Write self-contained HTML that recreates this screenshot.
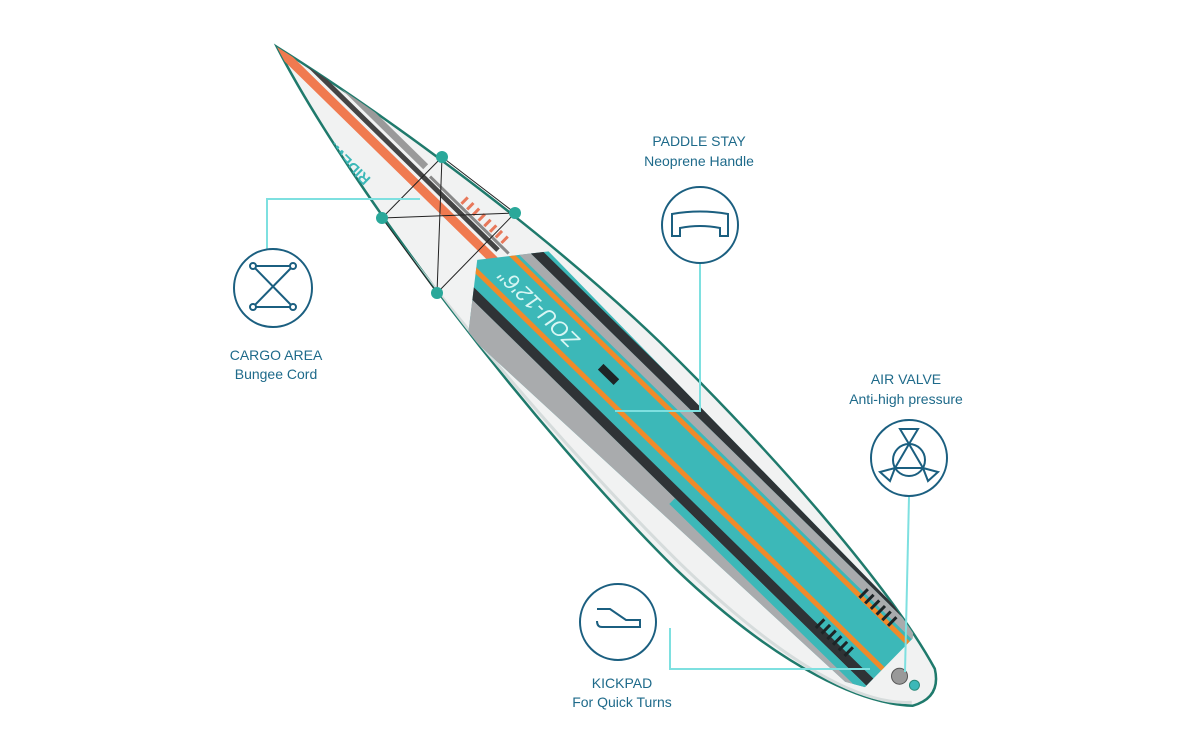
<!DOCTYPE html>
<html><head><meta charset="utf-8"><style>
html,body{margin:0;padding:0;background:#fff;width:1200px;height:750px;overflow:hidden}
svg{display:block}
text{font-family:"Liberation Sans",sans-serif;font-size:14px;fill:#1e6a8a;text-anchor:middle}
</style></head><body>
<svg width="1200" height="750" viewBox="0 0 1200 750" xmlns="http://www.w3.org/2000/svg">
<defs>
<clipPath id="bc"><path d="M0,0 C100,-22 300,-55 480,-57 C650,-57 820,-42 905,-16 Q930,0 915,26 C880,58 800,92 650,94 C450,93 150,50 0,0Z"/></clipPath>
<clipPath id="pc"><path d="M337,-44 L860,-32 L868,-22 L868,46 L850,56 L338,72 L292,12 Z"/></clipPath>
</defs>
<g transform="translate(277,47) rotate(44.4)">
  <path d="M0,0 C100,-22 300,-55 480,-57 C650,-57 820,-42 905,-16 Q930,0 915,26 C880,58 800,92 650,94 C450,93 150,50 0,0Z" fill="#f1f2f2" stroke="#1f7a6c" stroke-width="2.5"/>
  <g clip-path="url(#bc)">
    <path d="M0,6 C150,56 450,86 650,87 C800,86 880,60 912,24" fill="none" stroke="#d6dcdc" stroke-width="3"/>
    <rect x="0" y="-4" width="320" height="9" fill="#f07a50"/>
    <rect x="0" y="-12" width="300" height="5" fill="#444"/>
    <rect x="60" y="-22" width="130" height="7" fill="#9a9a9a"/>
    <rect x="200" y="-16" width="110" height="3" fill="#888"/>
    <g fill="#e8785a">
      <rect x="240" y="-26" width="3" height="9"/><rect x="248" y="-26" width="3" height="9"/><rect x="256" y="-26" width="3" height="9"/><rect x="264" y="-26" width="3" height="9"/><rect x="272" y="-26" width="3" height="9"/><rect x="280" y="-26" width="3" height="9"/><rect x="288" y="-26" width="3" height="9"/><rect x="296" y="-26" width="3" height="9"/>
    </g>
    <path d="M337,-44 L860,-32 L868,-22 L868,46 L850,56 L338,72 L292,12 Z" fill="#3cb8b8"/>
    <g clip-path="url(#pc)">
      <rect x="280" y="-40" width="600" height="10" fill="#2f3336"/>
      <rect x="280" y="-30" width="600" height="9" fill="#a9abad"/>
      <rect x="280" y="-18" width="600" height="5" fill="#f08a2a"/>
      <rect x="280" y="18" width="600" height="5" fill="#f08a2a"/>
      <rect x="280" y="34" width="600" height="10" fill="#2f3336"/>
      <rect x="280" y="44" width="600" height="30" fill="#a9abad"/>
      <rect x="600" y="44" width="280" height="8" fill="#3cb8b8"/>
    </g>
    <rect x="455" y="-2" width="22" height="8" fill="#1d2426"/>
    <g fill="#1d2426">
      <rect x="800" y="-26" width="3" height="12"/><rect x="808" y="-26" width="3" height="12"/><rect x="816" y="-26" width="3" height="12"/><rect x="824" y="-26" width="3" height="12"/><rect x="832" y="-26" width="3" height="12"/><rect x="840" y="-26" width="3" height="12"/>
      <rect x="790" y="26" width="3" height="12"/><rect x="798" y="26" width="3" height="12"/><rect x="806" y="26" width="3" height="12"/><rect x="814" y="26" width="3" height="12"/><rect x="822" y="26" width="3" height="12"/><rect x="830" y="26" width="3" height="12"/>
    </g>
    <text x="370" y="8" transform="rotate(180 370 2)" style="fill:#d8f6f4;font-size:22px;font-style:italic">ZOU-12'6"</text>
    <text x="120" y="40" transform="rotate(180 120 34)" style="fill:#3cb8b8;font-size:15px;font-weight:bold">RIDEWAVE</text>
    <circle cx="885" cy="14" r="8" fill="#999" stroke="#555"/>
    <circle cx="902" cy="10" r="5" fill="#3cb8b8" stroke="#2a8a7a"/>
  </g>
</g>
<g stroke="#222" stroke-width="1" fill="none">
  <path d="M442,157 L437,293 M382,218 L515,213 M382,218 L442,157 M442,157 L515,213 M382,218 L437,293 M515,213 L437,293"/>
</g>
<g fill="#2aa89a"><circle cx="442" cy="157" r="6"/><circle cx="382" cy="218" r="6"/><circle cx="515" cy="213" r="6"/><circle cx="437" cy="293" r="6"/></g>
<g stroke="#7ee0e0" stroke-width="2" fill="none">
  <path d="M267,249 V199 H420"/>
  <path d="M700,263 V411 H615"/>
  <path d="M909,497 L905,672"/>
  <path d="M670,628 V669 H870"/>
</g>
<g stroke="#1b5f80" stroke-width="2" fill="none">
  <circle cx="273" cy="288" r="39"/>
  <path d="M253,266 H293 M253,307 H293 M253,266 L293,307 M293,266 L253,307"/>
  <circle cx="253" cy="266" r="3" fill="#fff"/><circle cx="293" cy="266" r="3" fill="#fff"/><circle cx="253" cy="307" r="3" fill="#fff"/><circle cx="293" cy="307" r="3" fill="#fff"/>
  <circle cx="700" cy="225" r="38"/>
  <path d="M672,214 Q700,209 728,214 L728,236 L720,236 V228 Q700,224 680,228 V236 L672,236 Z"/>
  <circle cx="909" cy="458" r="38"/>
  <circle cx="909" cy="460" r="16"/>
  <path d="M909,444 L900,429 H918 Z M895,468 L880,472 L890,481 Z M923,468 L938,472 L928,481 Z M909,444 L895,468 L923,468 Z"/>
  <circle cx="618" cy="622" r="38"/>
  <path d="M597,609 H610 L626,620 H640 V627 H602 Q597,627 597,621"/>
</g>
<text x="276" y="360">CARGO AREA</text>
<text x="276" y="379">Bungee Cord</text>
<text x="699" y="146">PADDLE STAY</text>
<text x="699" y="166">Neoprene Handle</text>
<text x="906" y="384">AIR VALVE</text>
<text x="906" y="404">Anti-high pressure</text>
<text x="622" y="688">KICKPAD</text>
<text x="622" y="707">For Quick Turns</text>
</svg>
</body></html>
